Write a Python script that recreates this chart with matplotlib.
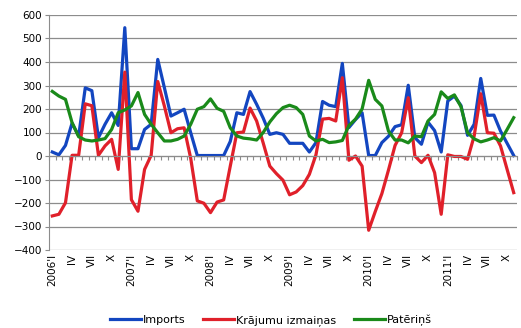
import numpy as np
import matplotlib
matplotlib.use("Agg")
import matplotlib.pyplot as plt

# monthly data, 2006 I .. 2011 XI
imports = [17, 5, 45, 140, 85, 290, 278, 78, 135, 184, 130, 546,
           31, 31, 113, 135, 411, 291, 170, 184, 199, 99, 2, 2,
           2, 2, 2, 62, 184, 177, 274, 220, 161, 92, 99, 92,
           54, 54, 54, 17, 57, 232, 216, 210, 394, 121, 155, 184,
           2, 2, 57, 84, 125, 133, 301, 78, 50, 144, 108, 17,
           234, 255, 215, 88, 135, 330, 173, 174, 106, 54, 2]

krajumi = [-255, -248, -199, 3, 3, 222, 214, 3, 43, 71, -57, 357,
           -186, -235, -57, 3, 317, 213, 99, 116, 120, -10, -191, -201,
           -241, -196, -187, -43, 99, 102, 204, 149, 55, -43, -75, -103,
           -165, -153, -126, -78, 5, 157, 160, 149, 333, -18, 0, -43,
           -316, -236, -160, -60, 45, 99, 248, 0, -28, 3, -71, -248,
           5, -2, -2, -14, 85, 265, 99, 97, 43, -57, -156]

paterins = [275, 255, 241, 142, 82, 68, 64, 68, 74, 113, 184, 196,
            213, 270, 177, 135, 99, 64, 64, 71, 85, 135, 199, 210,
            243, 203, 190, 120, 85, 76, 73, 68, 100, 145, 180, 206,
            216, 206, 177, 85, 64, 71, 57, 60, 66, 130, 157, 200,
            322, 241, 213, 106, 68, 68, 56, 85, 82, 149, 177, 273,
            245, 260, 210, 99, 73, 60, 68, 78, 64, 113, 163]

years = [2006, 2007, 2008, 2009, 2010, 2011]
quarter_labels = ["I", "IV", "VII", "X"]

n = len(imports)
x = np.arange(n)

labels = []
for i in range(0, n, 3):
    q = quarter_labels[(i % 12) // 3]
    if i % 12 == 0:
        labels.append(f"{years[i // 12]}'{q}")
    else:
        labels.append(q)

plt.rcParams['font.family'] = ['DejaVu Sans']

fig = plt.figure(figsize=(5.21, 3.28), dpi=100)
ax = fig.add_axes([49 / 521, 1 - 250 / 328, 468 / 521, 235 / 328])

grid_c = '#8c8c8c'
ax.plot(x, imports, color='#1346c0', lw=2.3, label='Imports')
ax.plot(x, krajumi, color='#e0202a', lw=2.3, label='Krājumu izmaiņas')
ax.plot(x, paterins, color='#1a8a1a', lw=2.3, label='Patēriņš')

ax.set_xlim(-0.5, n - 0.5)
ax.set_ylim(-400, 600)
ax.set_yticks(np.arange(-400, 601, 100))
ax.yaxis.grid(True, color=grid_c, lw=0.9)
ax.set_axisbelow(True)
ax.tick_params(axis='y', labelsize=7.5, length=3, color=grid_c, pad=2)

for s in ['top', 'right']:
    ax.spines[s].set_visible(False)
ax.spines['left'].set_color(grid_c)
ax.spines['bottom'].set_color(grid_c)
ax.spines['bottom'].set_position(('data', 0))

# tick marks at category boundaries on the zero line
ax.set_xticks(np.arange(-0.5, n, 1))
ax.set_xticklabels([])
ax.tick_params(axis='x', length=3, color=grid_c, direction='out')

# category labels at the bottom
sec = ax.secondary_xaxis(0.0)
sec.set_xticks(np.arange(0, n, 3))
sec.set_xticklabels(labels, rotation=90, fontsize=7.5)
sec.tick_params(length=0, pad=3)
sec.spines['bottom'].set_visible(False)

fig.legend(loc='lower center', bbox_to_anchor=(0.52, -0.025), ncol=3, frameon=False,
           fontsize=8, handlelength=2.8, handletextpad=0.15, columnspacing=1.6)

fig.savefig('out.png', dpi=100)
